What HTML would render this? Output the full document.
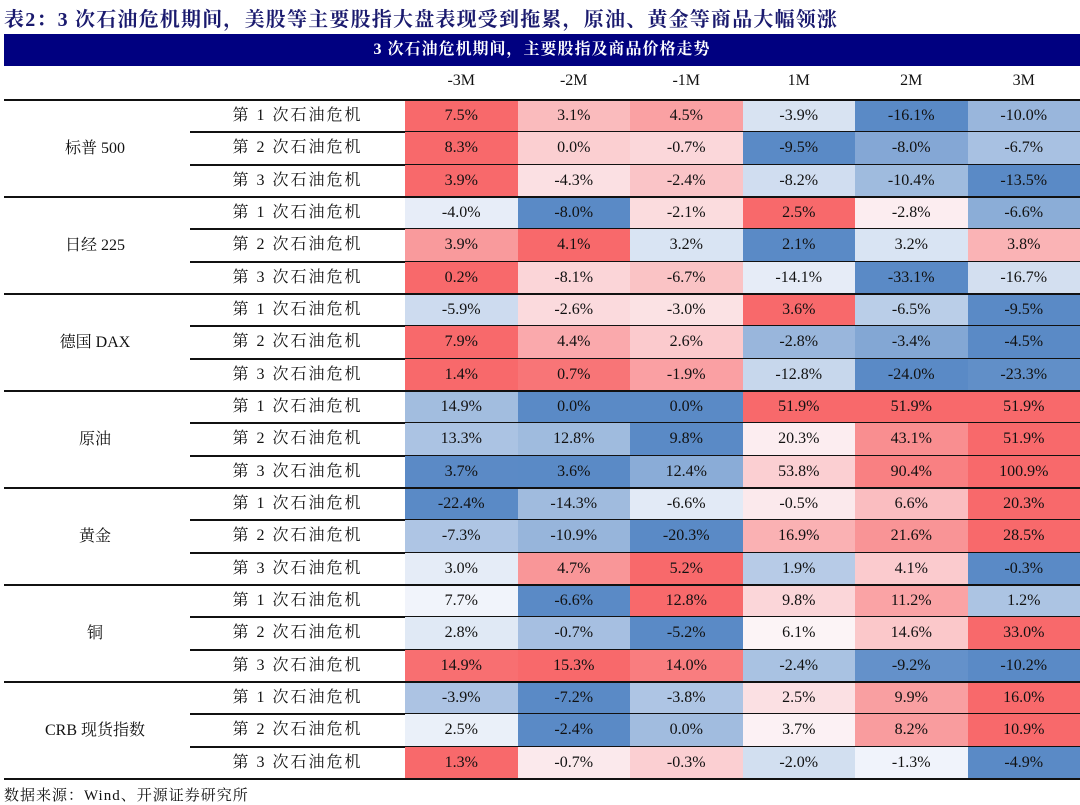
<!DOCTYPE html>
<html><head><meta charset="utf-8">
<style>
body{margin:0;width:1080px;height:804px;background:#fff;position:relative;overflow:hidden;font-family:"Liberation Serif","Noto Serif CJK SC",serif;color:#111}
.a{position:absolute}
#title{left:4px;top:3px;font-size:20px;font-weight:bold;color:#1a1a6e;white-space:nowrap;letter-spacing:1.2px}
#bar{left:4px;top:34px;width:1076px;height:32px;background:#000080;color:#fff;font-size:16px;font-weight:bold;text-align:center;line-height:32px;letter-spacing:1px}
.h{top:66px;height:34px;line-height:30px;font-size:16px;text-align:center;width:112.5px}
.c{text-align:center;font-size:16px}
.s{letter-spacing:2px}
.ln{background:#111;height:2px}
#foot{left:4px;top:784px;font-size:15px;white-space:nowrap;letter-spacing:1px}
</style></head><body>
<div class="a" id="title">表2：3 次石油危机期间，美股等主要股指大盘表现受到拖累，原油、黄金等商品大幅领涨</div>
<div class="a" id="bar">3 次石油危机期间，主要股指及商品价格走势</div>
<div id="tbl"></div>
<div class="a" id="foot">数据来源：Wind、开源证券研究所</div>
<script>
const periods = ["-3M","-2M","-1M","1M","2M","3M"];
const groups = ["标普 500","日经 225","德国 DAX","原油","黄金","铜","CRB 现货指数"];
const crises = ["第 1 次石油危机","第 2 次石油危机","第 3 次石油危机"];
const spx = [[7.5,3.1,4.5,-3.9,-16.1,-10.0],[8.3,0.0,-0.7,-9.5,-8.0,-6.7],[3.9,-4.3,-2.4,-8.2,-10.4,-13.5]];
const nikkei = [[-4.0,-8.0,-2.1,2.5,-2.8,-6.6],[3.9,4.1,3.2,2.1,3.2,3.8],[0.2,-8.1,-6.7,-14.1,-33.1,-16.7]];
const dax = [[-5.9,-2.6,-3.0,3.6,-6.5,-9.5],[7.9,4.4,2.6,-2.8,-3.4,-4.5],[1.4,0.7,-1.9,-12.8,-24.0,-23.3]];
const oil = [[14.9,0.0,0.0,51.9,51.9,51.9],[13.3,12.8,9.8,20.3,43.1,51.9],[3.7,3.6,12.4,53.8,90.4,100.9]];
const gold = [[-22.4,-14.3,-6.6,-0.5,6.6,20.3],[-7.3,-10.9,-20.3,16.9,21.6,28.5],[3.0,4.7,5.2,1.9,4.1,-0.3]];
const copper = [[7.7,-6.6,12.8,9.8,11.2,1.2],[2.8,-0.7,-5.2,6.1,14.6,33.0],[14.9,15.3,14.0,-2.4,-9.2,-10.2]];
const crb = [[-3.9,-7.2,-3.8,2.5,9.9,16.0],[2.5,-2.4,0.0,3.7,8.2,10.9],[1.3,-0.7,-0.3,-2.0,-1.3,-4.9]];
const series = [spx,nikkei,dax,oil,gold,copper,crb];

const T=100, RH=679/21, X0=405, CW=112.5;
const root=document.getElementById('tbl');
function div(cls,st,txt){const d=document.createElement('div');d.className='a '+cls;Object.assign(d.style,st);if(txt!=null)d.textContent=txt;root.appendChild(d);return d;}
const R=[248,105,107],W=[252,252,255],B=[90,138,198];
function mix(a,b,t){return 'rgb('+a.map((v,i)=>Math.round(v+(b[i]-v)*t)).join(',')+')';}
function color(v,row){
  const s=[...row].sort((a,b)=>a-b);const mn=s[0],mx=s[5],md=(s[2]+s[3])/2;
  if(v>=md){return mx>md?mix(W,R,(v-md)/(mx-md)):mix(W,R,0);}
  return md>mn?mix(W,B,(md-v)/(md-mn)):mix(W,B,0);
}
periods.forEach((p,j)=>{
  const h=div('h',{left:(X0+j*CW)+'px'},p);
  
  
});
series.forEach((g,gi)=>{
  const gl=div('c',{left:'0px',width:'190px',top:(T+gi*3*RH)+'px',height:(3*RH)+'px',lineHeight:(3*RH)+'px'},groups[gi]);
  
  
  g.forEach((row,ri)=>{
    const y=T+(gi*3+ri)*RH;
    const sl=div('c s',{left:'190px',width:'215px',top:y+'px',height:RH+'px',lineHeight:RH+'px'},crises[ri]);
    
    
    row.forEach((v,j)=>{
      const c=div('c',{left:(X0+j*CW)+'px',width:CW+'px',top:y+'px',height:RH+'px',lineHeight:RH+'px',background:color(v,row)},v.toFixed(1)+'%');
      
      
    });
    if(ri<2){
      const l=div('ln',{left:'190px',width:'890px',top:(y+RH-1)+'px'});
      
      
    }
  });
});
for(let k=0;k<=7;k++){
  const l=div('ln',{left:'4px',width:'1076px',top:(T+k*3*RH-1)+'px'});
  
  
}
</script>
</body></html>
